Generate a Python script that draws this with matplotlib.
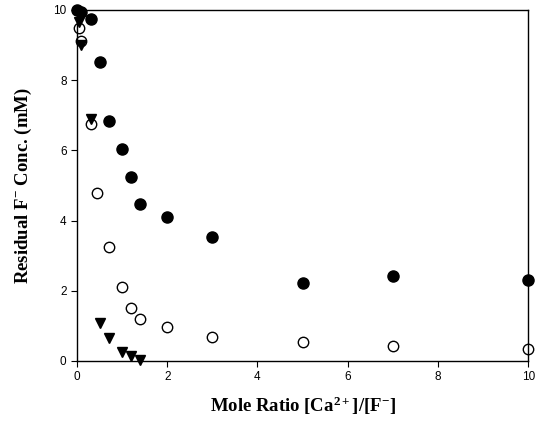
import matplotlib
matplotlib.use("Agg")
import matplotlib.pyplot as plt

# residual fluoride vs Ca/F mole ratio
ratio_filled = [0.0, 0.1, 0.3, 0.5, 0.7, 1.0, 1.2, 1.4, 2.0, 3.0, 5.0, 7.0, 10.0]
conc_filled = [10.0, 9.95, 9.75, 8.52, 6.83, 6.03, 5.25, 4.47, 4.1, 3.53, 2.23, 2.43, 2.3]

ratio_open = [0.05, 0.1, 0.3, 0.45, 0.7, 1.0, 1.2, 1.4, 2.0, 3.0, 5.0, 7.0, 10.0]
conc_open = [9.5, 9.12, 6.75, 4.8, 3.26, 2.12, 1.5, 1.2, 0.96, 0.69, 0.54, 0.42, 0.34]

ratio_tri = [0.05, 0.1, 0.3, 0.5, 0.7, 1.0, 1.2, 1.4]
conc_tri = [9.65, 9.0, 6.88, 1.08, 0.66, 0.25, 0.13, 0.02]

plt.rcParams['font.family'] = ['Liberation Sans', 'DejaVu Sans']
plt.rcParams['mathtext.fontset'] = 'custom'
plt.rcParams['mathtext.rm'] = 'Liberation Serif:bold'
plt.rcParams['mathtext.it'] = 'Liberation Serif:bold'
plt.rcParams['mathtext.bf'] = 'Liberation Serif:bold'
plt.rcParams['mathtext.default'] = 'rm'

fig = plt.figure(figsize=(5.44, 4.26), dpi=100)
ax = fig.add_axes([0.1415, 0.1526, 0.8295, 0.824])

ax.plot(ratio_open, conc_open, 'o', mfc='white', mec='black', mew=1.0, ms=7.5, clip_on=False)
ax.plot(ratio_tri, conc_tri, 'v', color='black', ms=7.5, clip_on=False)
ax.plot(ratio_filled, conc_filled, 'o', color='black', ms=8, clip_on=False)

ax.set_xlim(0, 10)
ax.set_ylim(0, 10)
ax.set_xticks([0, 2, 4, 6, 8, 10])
ax.set_yticks([0, 2, 4, 6, 8, 10])
ax.tick_params(direction='out', length=4, width=0.8, labelsize=8.5)
for s in ax.spines.values():
    s.set_linewidth(1.0)

lab = dict(family=['Liberation Serif', 'DejaVu Serif'], fontweight='bold', fontsize=13.5)
ax.set_xlabel(r'Mole Ratio [Ca$^{2+}$]/[F$^{-}$]', labelpad=8, **lab)
ax.set_ylabel(r'Residual F$^{-}$ Conc. (mM)', labelpad=14, **lab)

fig.savefig('out.png', dpi=100)
